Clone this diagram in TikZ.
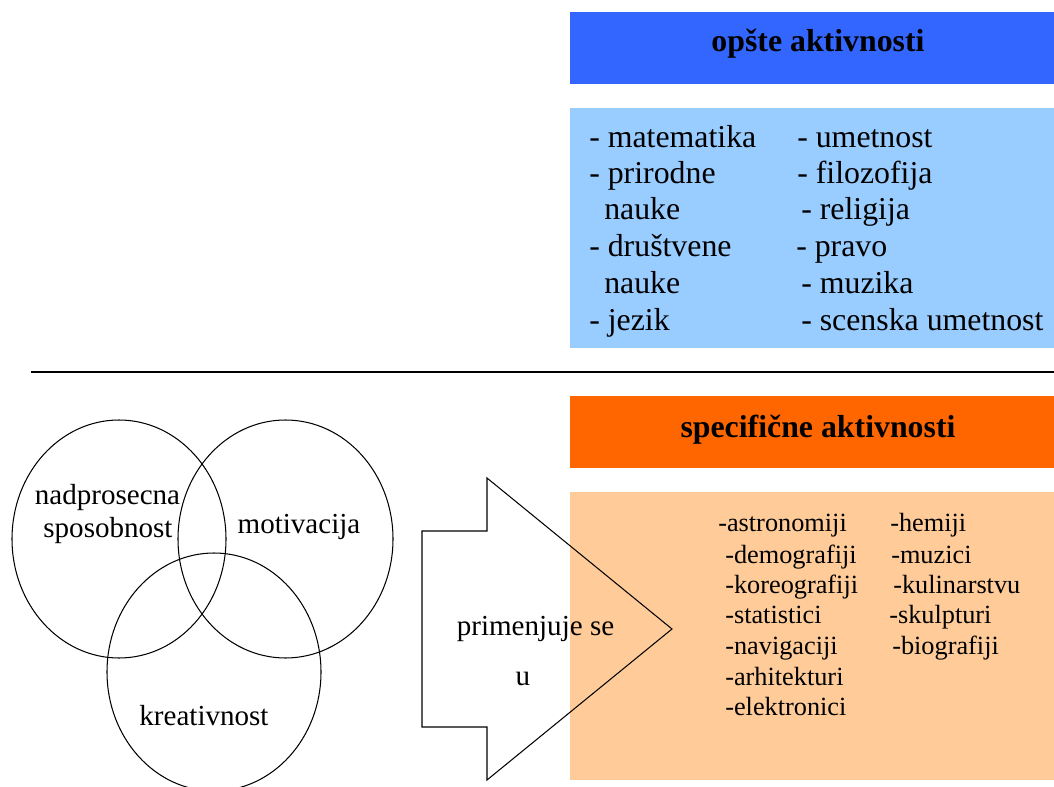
\documentclass[tikz,border=0pt]{standalone}
\usepackage{fontspec}
\setmainfont{Liberation Serif}
\usetikzlibrary{positioning}
\definecolor{opsteblue}{HTML}{3366FF}
\definecolor{opstelight}{HTML}{99CCFF}
\definecolor{specorange}{HTML}{FF6600}
\definecolor{specpeach}{HTML}{FFCC99}

\begin{document}
\begin{tikzpicture}[x=0.254mm,y=-0.254mm]
	\tikzstyle{panel}=[rectangle, inner sep=0mm, draw=none, minimum width=122.94mm]
	\tikzstyle{heading}=[anchor=base, inner sep=0mm, font=\fontsize{23}{27}\selectfont\bfseries]
	\tikzstyle{biglist}=[anchor=base west, inner sep=0mm, font=\fontsize{23}{27}\selectfont]
	\tikzstyle{smalllist}=[anchor=base west, inner sep=0mm, font=\fontsize{19}{23}\selectfont]
	\tikzstyle{venn}=[anchor=base, inner sep=0mm, font=\fontsize{21}{25}\selectfont]
	\tikzstyle{ring}=[line width=0.75pt, draw=black]
	\useasboundingbox (0,0) rectangle (1054,787);
	% opste aktivnosti
	  \node[panel, fill=opsteblue, minimum height=18.29mm] (opste) at (812,48) {};
	  \node[panel, fill=opstelight, minimum height=60.96mm] (opstelist) at (812,228) {};
	  \node[heading] (opstetitle) at (818,51) {opšte aktivnosti};
	  \node[biglist] (matematika) at (589,147) {- matematika};
	  \node[biglist] (prirodne) at (589,183) {- prirodne};
	  \node[biglist] (nauke1) at (604,219) {nauke};
	  \node[biglist] (drustvene) at (589,256) {- društvene};
	  \node[biglist] (nauke2) at (604,293) {nauke};
	  \node[biglist] (jezik) at (589,330) {- jezik};
	  \node[biglist] (umetnost) at (797,147) {- umetnost};
	  \node[biglist] (filozofija) at (797,183) {- filozofija};
	  \node[biglist] (religija) at (801,219) {- religija};
	  \node[biglist] (pravo) at (796,256) {- pravo};
	  \node[biglist] (muzika) at (801,293) {- muzika};
	  \node[biglist] (scenska) at (801,330) {- scenska umetnost};
	% separator
	  \coordinate (sepL) at (31,372);
	  \coordinate (sepR) at (1054,372);
	  \draw[line width=1.4pt] (sepL) -- (sepR);
	% specificne aktivnosti
	  \node[panel, fill=specorange, minimum height=18.29mm] (spec) at (812,432) {};
	  \node[panel, fill=specpeach, minimum height=73.15mm] (speclist) at (812,636) {};
	  \node[heading] (spectitle) at (818,437) {specifične aktivnosti};
	  \node[smalllist] (astronomiji) at (718,531) {-astronomiji};
	  \node[smalllist] (demografiji) at (725,563) {-demografiji};
	  \node[smalllist] (koreografiji) at (725,593) {-koreografiji};
	  \node[smalllist] (statistici) at (725,623) {-statistici};
	  \node[smalllist] (navigaciji) at (725,654) {-navigaciji};
	  \node[smalllist] (arhitekturi) at (725,685) {-arhitekturi};
	  \node[smalllist] (elektronici) at (725,715) {-elektronici};
	  \node[smalllist] (hemiji) at (890,531) {-hemiji};
	  \node[smalllist] (muzici) at (891,563) {-muzici};
	  \node[smalllist] (kulinarstvu) at (893,593) {-kulinarstvu};
	  \node[smalllist] (skulpturi) at (889,623) {-skulpturi};
	  \node[smalllist] (biografiji) at (892,654) {-biografiji};
	% venn
	  \draw[ring] (119,539) ellipse [x radius=107, y radius=119];
	  \draw[ring] (285.5,539) ellipse [x radius=107.5, y radius=119];
	  \draw[ring] (214,672) ellipse [x radius=107, y radius=119];
	  \node[venn] (nadprosecna) at (107.5,504) {nadprosecna};
	  \node[venn] (sposobnost) at (108,537) {sposobnost};
	  \node[venn] (motivacija) at (299,533) {motivacija};
	  \node[venn] (kreativnost) at (204,725) {kreativnost};
	% arrow
	  \draw[ring, line join=miter] (422,531) -- (487,531) -- (487,478) -- (672,629)
	    -- (487,780) -- (487,727) -- (422,727) -- cycle;
	  \node[venn] (primenjuje) at (535.5,635) {primenjuje se};
	  \node[venn] (u) at (523,685) {u};
\end{tikzpicture}
\end{document}
